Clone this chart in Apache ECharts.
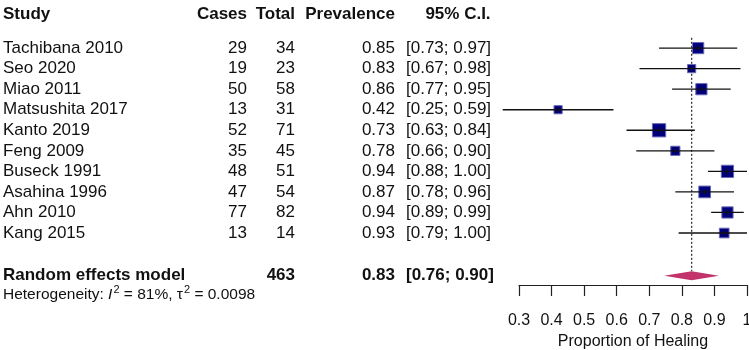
<!DOCTYPE html>
<html>
<head>
<meta charset="utf-8">
<script src="https://cdn.jsdelivr.net/npm/echarts@6/dist/echarts.min.js"></script>
<style>
  html, body { margin: 0; padding: 0; background: #fff; }
  #chart { width: 749px; height: 350px; }
</style>
</head>
<body>
<div id="chart"></div>
<script>
const studies = [
  "Tachibana 2010", "Seo 2020", "Miao 2011", "Matsushita 2017", "Kanto 2019",
  "Feng 2009", "Buseck 1991", "Asahina 1996", "Ahn 2010", "Kang 2015",
];
const cases = [29, 19, 50, 13, 52, 35, 48, 47, 77, 13];
const totals = [34, 23, 58, 31, 71, 45, 51, 54, 82, 14];
const prevalence = [0.85, 0.83, 0.86, 0.42, 0.73, 0.78, 0.94, 0.87, 0.94, 0.93];
const ciLower = [0.73, 0.67, 0.77, 0.25, 0.63, 0.66, 0.88, 0.78, 0.89, 0.79];
const ciUpper = [0.97, 0.98, 0.95, 0.59, 0.84, 0.90, 1.00, 0.96, 0.99, 1.00];
// random-effects weights (%)
const weights = [10.9, 5.8, 10.9, 5.8, 15.3, 7.3, 13.0, 11.9, 10.9, 8.1];

const pooledLabel = "Random effects model";
const pooledTotal = 463;
const pooledEst = 0.83;
const pooledLower = 0.76;
const pooledUpper = 0.90;
const heterogeneity = { i2: "81%", tau2: "0.0098" };

const headers = ["Study", "Cases", "Total", "Prevalence", "95% C.I."];

// row positions (y axis units, inverted)
const HEADER_ROW = -0.65;
const POOLED_ROW = 12.08;
const HET_ROW = 13.0;

// text column anchors in px
const COL = { study: 3, cases: 247, total: 295, prev: 395, ci: 406, ciHead: 458 };
const FONT = "Liberation Sans, Arial, sans-serif";
const TXT = "#111";

const fmt = (v) => v.toFixed(2);
const ciText = (lo, hi) => "[" + fmt(lo) + "; " + fmt(hi) + "]";

const chart = echarts.init(document.getElementById("chart"), null, { renderer: "canvas" });

function txt(x, y, text, align, bold, size) {
  return {
    type: "text",
    style: {
      text: text, x: x, y: y, fill: TXT,
      fontFamily: FONT, fontSize: size || 17, fontWeight: bold ? "bold" : "normal",
      align: align, verticalAlign: "middle",
    },
  };
}

const studyData = studies.map((s, i) => [ciLower[i], ciUpper[i], prevalence[i], i + 1, weights[i]]);

chart.setOption({
  animation: false,
  grid: { left: 519, right: 2, top: 0, bottom: 65, containLabel: false, outerBoundsMode: "none" },
  xAxis: {
    type: "value",
    position: "bottom",
    min: 0.3, max: 1.0, interval: 0.1,
    axisLine: { show: true, onZero: false, lineStyle: { color: "#222", width: 1.2 } },
    axisTick: { show: true, inside: false, length: 11, lineStyle: { color: "#222", width: 1.2 } },
    axisLabel: {
      margin: 28, color: TXT, fontFamily: FONT, fontSize: 16,
      formatter: (v) => (Math.abs(v - 1) < 1e-9 ? "1" : v.toFixed(1)),
    },
    splitLine: { show: false },
    name: "Proportion of Healing",
    nameLocation: "middle",
    nameGap: 46,
    nameTextStyle: { color: TXT, fontFamily: FONT, fontSize: 16 },
  },
  yAxis: {
    type: "value", inverse: true, min: -1.34, max: 12.53,
    show: false,
  },
  series: [
    {
      // pooled estimate reference line
      type: "custom",
      clip: false,
      data: [[pooledEst]],
      renderItem: (params, api) => {
        const a = api.coord([api.value(0), 0.5]);
        const b = api.coord([api.value(0), 11.85]);
        return {
          type: "line",
          shape: { x1: a[0], y1: a[1], x2: b[0], y2: b[1] },
          style: { stroke: "#333", lineWidth: 1.3, lineDash: [2, 2] },
        };
      },
    },
    {
      // study boxes + CIs
      type: "custom",
      clip: false,
      data: studyData,
      renderItem: (params, api) => {
        const row = api.value(3);
        const lo = api.coord([api.value(0), row]);
        const hi = api.coord([api.value(1), row]);
        const c = api.coord([api.value(2), row]);
        const side = 3.4 * Math.sqrt(api.value(4));
        return {
          type: "group",
          children: [
            {
              type: "rect",
              shape: { x: c[0] - side / 2, y: c[1] - side / 2, width: side, height: side },
              style: { fill: "#00007f", stroke: "#6a6ab8", lineWidth: 1 },
            },
            {
              type: "line",
              shape: { x1: lo[0], y1: lo[1], x2: hi[0], y2: hi[1] },
              style: { stroke: "#111", lineWidth: 1.3 },
            },
            {
              type: "line",
              shape: { x1: c[0], y1: c[1] - 3, x2: c[0], y2: c[1] + 3 },
              style: { stroke: "#111", lineWidth: 1 },
            },
          ],
        };
      },
    },
    {
      // pooled diamond
      type: "custom",
      clip: false,
      data: [[pooledLower, pooledEst, pooledUpper, POOLED_ROW]],
      renderItem: (params, api) => {
        const row = api.value(3);
        const l = api.coord([api.value(0), row]);
        const m = api.coord([api.value(1), row]);
        const r = api.coord([api.value(2), row]);
        const h = 3.8;
        return {
          type: "polygon",
          shape: { points: [[l[0], l[1]], [m[0], m[1] - h], [r[0], r[1]], [m[0], m[1] + h]] },
          style: { fill: "#c2336c", stroke: "#c2336c", lineWidth: 1.5 },
        };
      },
    },
    {
      // table text
      type: "custom",
      clip: false,
      silent: true,
      data: [[0, HEADER_ROW]].concat(studies.map((s, i) => [i + 1, i + 1]), [[11, POOLED_ROW], [12, HET_ROW]]),
      renderItem: (params, api) => {
        const idx = api.value(0);
        const y = api.coord([0.3, api.value(1)])[1];
        if (idx === 0) {
          return {
            type: "group",
            children: [
              txt(COL.study, y, headers[0], "left", true),
              txt(COL.cases, y, headers[1], "right", true),
              txt(COL.total, y, headers[2], "right", true),
              txt(COL.prev, y, headers[3], "right", true),
              txt(COL.ciHead, y, headers[4], "center", true),
            ],
          };
        }
        if (idx <= studies.length) {
          const i = idx - 1;
          return {
            type: "group",
            children: [
              txt(COL.study, y, studies[i], "left", false),
              txt(COL.cases, y, String(cases[i]), "right", false),
              txt(COL.total, y, String(totals[i]), "right", false),
              txt(COL.prev, y, fmt(prevalence[i]), "right", false),
              txt(COL.ci, y, ciText(ciLower[i], ciUpper[i]), "left", false),
            ],
          };
        }
        if (idx === 11) {
          return {
            type: "group",
            children: [
              txt(COL.study, y, pooledLabel, "left", true),
              txt(COL.total, y, String(pooledTotal), "right", true),
              txt(COL.prev, y, fmt(pooledEst), "right", true),
              txt(COL.ci, y, ciText(pooledLower, pooledUpper), "left", true),
            ],
          };
        }
        return {
          type: "text",
          style: {
            text: "Heterogeneity: {i|I}{sup|2} = 81%, \u03c4{sup|2} = 0.0098"
              .replace("81%", heterogeneity.i2).replace("0.0098", heterogeneity.tau2),
            x: COL.study, y: y, fill: TXT, fontFamily: FONT, fontSize: 15.5,
            align: "left", verticalAlign: "middle", lineHeight: 20,
            rich: {
              i: { fontStyle: "italic", fontFamily: FONT, fontSize: 15.5, fill: TXT },
              sup: { fontSize: 11, fontFamily: FONT, fill: TXT, verticalAlign: "top", lineHeight: 10, padding: [0, 0, 0, 1] },
            },
          },
        };
      },
    },
  ],
});
</script>
</body>
</html>
